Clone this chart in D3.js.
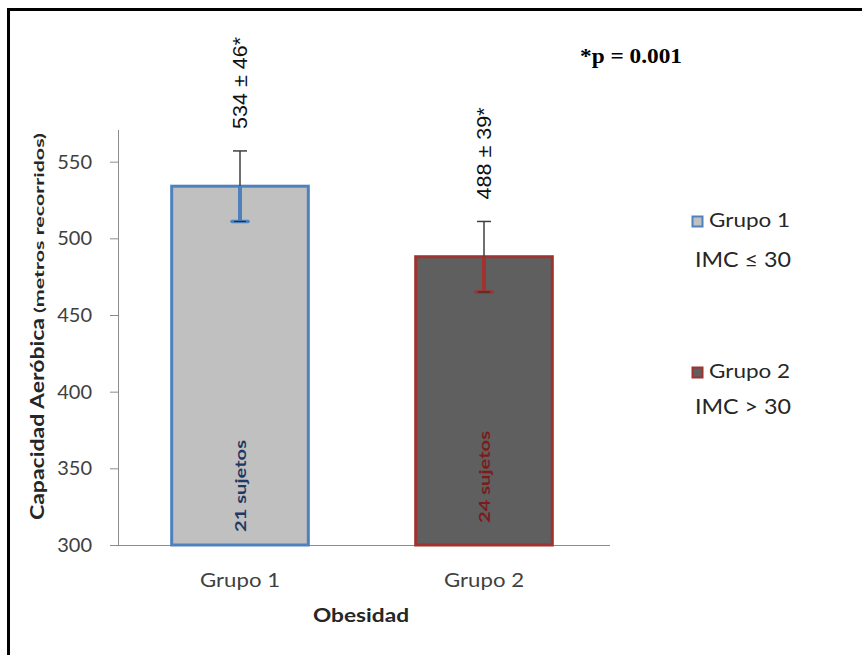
<!DOCTYPE html>
<html>
<head>
<meta charset="utf-8">
<script src="https://cdn.jsdelivr.net/npm/d3@7"></script>
<style>
  body { margin: 0; background: #fff; }
  text { font-family: Lato, "Open Sans", sans-serif; }
</style>
</head>
<body>
<div id="chart"></div>
<script>
var width = 862,
    height = 655;

// data
var groups = ["Grupo 1", "Grupo 2"];
var means = [534, 488];
var sds = [46, 39];           // printed in the labels
var errDrawn = [23, 23];      // half length of the drawn error bars
var sujetos = [21, 24];
var imc = ["IMC \u2264 30", "IMC > 30"];
var yTicks = [300, 350, 400, 450, 500, 550];

var fills = ["#c0c0c0", "#5f5f5f"],
    strokes = ["#4f81bd", "#a03230"],
    innerText = ["#1f3864", "#7a1c1c"];

var svg = d3.select("#chart")
    .append("svg")
    .attr("width", width)
    .attr("height", height);

// frame round the figure (right and bottom edge are cut off)
svg.append("path")
    .attr("d", "M8.5," + height + " L8.5,9.5 L" + width + ",9.5")
    .style("fill", "none")
    .style("stroke", "#000")
    .style("stroke-width", 3);

var y = d3.scaleLinear()
    .domain([300, 570])
    .range([545, 131]);

var x = d3.scaleBand()
    .domain(groups)
    .range([118, 606])
    .paddingInner(0.44)
    .paddingOuter(0.22);

/* y axis */
var yAxis = svg.append("g")
    .attr("transform", "translate(118,0)")
    .call(d3.axisLeft(y).tickValues(yTicks).tickSize(8).tickPadding(18));
yAxis.select(".domain").remove();
yAxis.selectAll("line").style("stroke", "#8c8c8c");
yAxis.selectAll("text")
    .style("font-size", "20px")
    .style("fill", "#404040")
    .style("font-family", "Lato, sans-serif");

svg.append("line")
    .attr("x1", 118.5).attr("x2", 118.5)
    .attr("y1", 130).attr("y2", 545)
    .style("stroke", "#8c8c8c");

/* x axis */
svg.append("line")
    .attr("x1", 110).attr("x2", 610)
    .attr("y1", 545.5).attr("y2", 545.5)
    .style("stroke", "#8c8c8c");

svg.selectAll(".xlab")
    .data(groups)
    .enter().append("text")
    .attr("x", function(d) { return x(d) + x.bandwidth() / 2; })
    .attr("y", 587)
    .attr("text-anchor", "middle")
    .attr("textLength", 80)
    .attr("lengthAdjust", "spacingAndGlyphs")
    .style("font-size", "20px")
    .style("fill", "#404040")
    .text(function(d) { return d; });

svg.append("text")
    .attr("x", 361)
    .attr("y", 622)
    .attr("text-anchor", "middle")
    .attr("textLength", 96)
    .attr("lengthAdjust", "spacingAndGlyphs")
    .style("font-size", "19px")
    .style("font-weight", "bold")
    .style("fill", "#262626")
    .text("Obesidad");

/* y axis title */
svg.append("text")
    .attr("transform", "translate(44,520) rotate(-90)")
    .attr("textLength", 202)
    .attr("lengthAdjust", "spacingAndGlyphs")
    .style("font-size", "18px")
    .style("font-weight", "bold")
    .style("fill", "#262626")
    .text("Capacidad Aeróbica");

svg.append("text")
    .attr("transform", "translate(44,313) rotate(-90)")
    .attr("textLength", 180)
    .attr("lengthAdjust", "spacingAndGlyphs")
    .style("font-size", "13px")
    .style("font-weight", "bold")
    .style("fill", "#262626")
    .text("(metros recorridos)");

/* bars */
svg.selectAll(".bar")
    .data(groups)
    .enter().append("rect")
    .attr("x", function(d) { return x(d); })
    .attr("y", function(d, i) { return y(means[i]); })
    .attr("width", x.bandwidth())
    .attr("height", function(d, i) { return y(300) - y(means[i]); })
    .style("fill", function(d, i) { return fills[i]; })
    .style("stroke", function(d, i) { return strokes[i]; })
    .style("stroke-width", 3);

/* error bars: upper half dark grey, lower half in the bar colour */
groups.forEach(function(g, i) {
    var cx = x(g) + x.bandwidth() / 2;
    var top = y(means[i] + errDrawn[i]),
        mid = y(means[i]),
        bot = y(means[i] - errDrawn[i]);
    svg.append("line")
        .attr("x1", cx).attr("x2", cx)
        .attr("y1", top).attr("y2", mid)
        .style("stroke", "#404040").style("stroke-width", 1.5);
    svg.append("line")
        .attr("x1", cx - 7).attr("x2", cx + 7)
        .attr("y1", top).attr("y2", top)
        .style("stroke", "#404040").style("stroke-width", 1.5);
    svg.append("line")
        .attr("x1", cx).attr("x2", cx)
        .attr("y1", mid).attr("y2", bot)
        .style("stroke", strokes[i]).style("stroke-width", 4);
    svg.append("line")
        .attr("x1", cx - 8).attr("x2", cx + 8)
        .attr("y1", bot).attr("y2", bot)
        .style("stroke", strokes[i]).style("stroke-width", 3.5)
        .style("stroke-linecap", "round");
    svg.append("line")
        .attr("x1", cx - 6).attr("x2", cx + 6)
        .attr("y1", bot).attr("y2", bot)
        .style("stroke", "#303030").style("stroke-width", 1.2);

    // mean +- sd label, rotated
    svg.append("text")
        .attr("transform", "translate(" + (cx + 7) + "," + (top - 22) + ") rotate(-90)")
        .attr("textLength", 92)
        .attr("lengthAdjust", "spacingAndGlyphs")
        .style("font-family", "'Liberation Sans', Arial, sans-serif")
        .style("font-size", "20px")
        .style("fill", "#111")
        .text(means[i] + " \u00b1 " + sds[i] + "*");

    // subjects inside the bar
    svg.append("text")
        .attr("transform", "translate(" + (cx + 6) + "," + (i === 0 ? 532 : 523) + ") rotate(-90)")
        .attr("textLength", 92)
        .attr("lengthAdjust", "spacingAndGlyphs")
        .style("font-size", "16px")
        .style("font-weight", "bold")
        .style("fill", innerText[i])
        .text(sujetos[i] + " sujetos");
});

/* p value */
svg.append("text")
    .attr("x", 580)
    .attr("y", 63)
    .attr("textLength", 102)
    .attr("lengthAdjust", "spacingAndGlyphs")
    .style("font-family", "'Liberation Serif', 'Times New Roman', serif")
    .style("font-size", "21px")
    .style("font-weight", "bold")
    .style("fill", "#000")
    .text("*p = 0.001");

/* legend */
var legY = [216, 367];
groups.forEach(function(g, i) {
    svg.append("rect")
        .attr("x", 692.5).attr("y", legY[i] + 0.5)
        .attr("width", 10).attr("height", 10)
        .style("fill", fills[i])
        .style("stroke", strokes[i])
        .style("stroke-width", 2);
    svg.append("text")
        .attr("x", 709)
        .attr("y", legY[i] + 11)
        .attr("textLength", 81)
        .attr("lengthAdjust", "spacingAndGlyphs")
        .style("font-size", "20px")
        .style("fill", "#262626")
        .text(g);
    svg.append("text")
        .attr("x", 695)
        .attr("y", legY[i] + (i === 0 ? 51 : 47))
        .attr("textLength", 96)
        .attr("lengthAdjust", "spacingAndGlyphs")
        .style("font-size", "21px")
        .style("fill", "#262626")
        .text(imc[i]);
});
</script>
</body>
</html>
